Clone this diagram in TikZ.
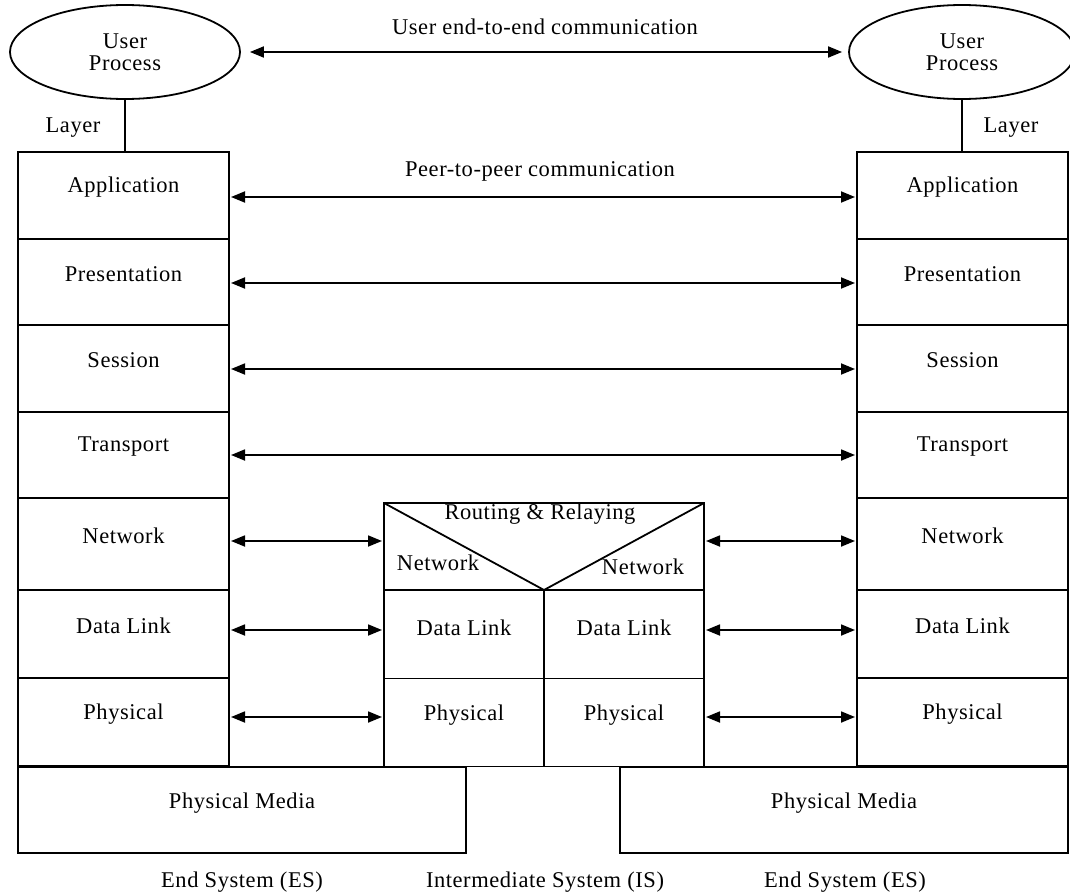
\documentclass[tikz,border=0pt]{standalone}
\usepackage{fontspec}
\setmainfont[LetterSpace=2.5]{Liberation Serif}
\usetikzlibrary{arrows.meta,shapes.geometric,calc}
\begin{document}
\begin{tikzpicture}[x=1pt,y=-1pt,line width=1.8pt,
  every node/.style={font=\fontsize{22.5}{26}\selectfont},
  layerbox/.style={draw,rectangle,minimum width=211pt,inner sep=0pt,outer sep=0pt},
  midbox/.style={draw,rectangle,minimum width=160pt,inner sep=0pt,outer sep=0pt},
  proc/.style={draw,ellipse,minimum width=230pt,minimum height=94pt,inner sep=0pt,align=center,font=\fontsize{22.5}{22}\selectfont},
  arr/.style={{Triangle[length=14pt,width=11pt]}-{Triangle[length=14pt,width=11pt]}},
  txt/.style={inner sep=0pt}]
\useasboundingbox (0,0) rectangle (1070,894);
% user processes
\node[proc] (up1) at (125,52) {User\\Process};
\node[proc,minimum width=226pt] (up2) at (962,52) {User\\Process};
% stacks
\foreach \n/\t/\c/\h in {app/Application/195.5/87, pre/Presentation/282/86, ses/Session/368.5/87, tra/Transport/455/86, net/Network/544/92, dl/Data Link/634/88, ph/Physical/722/88}{
  \node[layerbox,minimum height=\h pt,label={[yshift=8pt]center:\t}] (\n1) at (123.5,\c) {};
  \node[layerbox,minimum height=\h pt,label={[yshift=8pt]center:\t}] (\n2) at (962.5,\c) {};
}
\draw (up1.south) -- (up1.south |- app1.north);
\draw (up2.south) -- (up2.south |- app2.north);
\node[txt] (lay1) at (73,128) {Layer};
\node[txt] (lay2) at (1011,128) {Layer};
% intermediate system
\node[draw,rectangle,minimum width=320pt,minimum height=87pt,inner sep=0pt,outer sep=0pt] (mnet) at (544,546.5) {};
\node[midbox,minimum height=88pt,label={[yshift=7pt]center:Data Link}] (mdl1) at (464,634.5) {};
\node[midbox,minimum height=88pt,label={[yshift=7pt]center:Data Link}] (mdl2) at (624,634.5) {};
\node[midbox,minimum height=88pt,label={[yshift=7pt]center:Physical}] (mph1) at (464,722.5) {};
\node[midbox,minimum height=88pt,label={[yshift=7pt]center:Physical}] (mph2) at (624,722.5) {};
\coordinate (vbot) at (544,590);
\draw (mnet.north west) -- (vbot) -- (mnet.north east);
\node[txt] (rr) at (540,514) {Routing \& Relaying};
\node[txt] (mn1) at (438,563) {Network};
\node[txt] (mn2) at (643,567) {Network};
% physical media
\node[draw,rectangle,minimum width=448pt,minimum height=86pt,inner sep=0pt,label={[yshift=7pt]center:Physical Media}] (pm1) at (242,810) {};
\node[draw,rectangle,minimum width=448pt,minimum height=86pt,inner sep=0pt,label={[yshift=7pt]center:Physical Media}] (pm2) at (844,810) {};
% arrows
\draw[arr] ([xshift=9pt]up1.east) -- ([xshift=-6pt]up2.west);
\node[txt] (uel) at (545,27) {User end-to-end communication};
\draw[arr] ([xshift=2pt]app1.east|-0,197) -- ([xshift=-2pt]app2.west|-0,197);
\node[txt] (ppl) at (540,171) {Peer-to-peer communication};
\draw[arr] ([xshift=2pt]pre1.east|-0,283) -- ([xshift=-2pt]pre2.west|-0,283);
\draw[arr] ([xshift=2pt]ses1.east|-0,369) -- ([xshift=-2pt]ses2.west|-0,369);
\draw[arr] ([xshift=2pt]tra1.east|-0,455) -- ([xshift=-2pt]tra2.west|-0,455);
\draw[arr] ([xshift=2pt]net1.east|-0,541) -- ([xshift=-2pt]mnet.west|-0,541);
\draw[arr] ([xshift=2pt]mnet.east|-0,541) -- ([xshift=-2pt]net2.west|-0,541);
\draw[arr] ([xshift=2pt]dl1.east|-0,630) -- ([xshift=-2pt]mdl1.west|-0,630);
\draw[arr] ([xshift=2pt]mdl2.east|-0,630) -- ([xshift=-2pt]dl2.west|-0,630);
\draw[arr] ([xshift=2pt]ph1.east|-0,717) -- ([xshift=-2pt]mph1.west|-0,717);
\draw[arr] ([xshift=2pt]mph2.east|-0,717) -- ([xshift=-2pt]ph2.west|-0,717);
% captions
\node[txt] (es1) at (242,882) {End System (ES)};
\node[txt] (is) at (545,882) {Intermediate System (IS)};
\node[txt] (es2) at (845,882) {End System (ES)};
\end{tikzpicture}
\end{document}
